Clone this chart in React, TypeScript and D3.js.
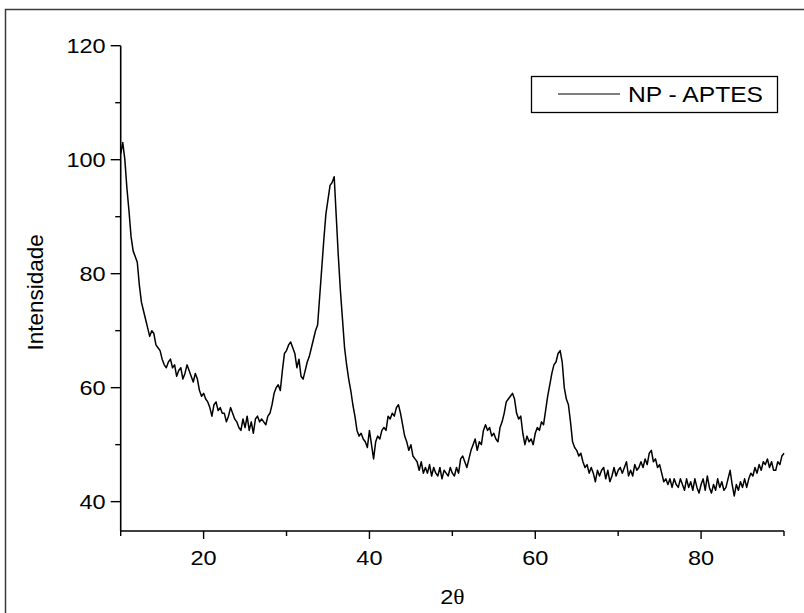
import React from "react";
import * as d3 from "d3";

// 2θ grid: start angle and step (degrees)
const angleStart = 10;
const angleStep = 0.25;

// Intensity, one value per 0.25° step from 10° to 90°
const intensity: number[] = [
  // 10.00 - 14.75
  101, 103, 100, 95, 91, 86.5, 84, 83, 82, 78, 75, 73.5, 72, 70.5, 69, 70, 69.5, 67.5, 67, 66.5,
  // 15.00 - 19.75
  65, 64, 63.5, 64.5, 65, 63.5, 64, 62, 63, 63.5, 61.5, 62.5, 64, 63, 62, 61, 62.5, 61.5, 59.5, 58.5,
  // 20.00 - 24.75
  59, 58, 57.5, 56.5, 55, 57, 57.5, 56, 56.5, 55.5, 55.5, 54, 55, 56.5, 55.5, 54.5, 54, 53, 52.5, 54.5,
  // 25.00 - 29.75
  53, 55, 52.5, 54, 52, 54.5, 55, 54, 54.5, 54, 53.5, 55, 55.5, 57, 59, 60, 60.5, 59.5, 63, 66,
  // 30.00 - 34.75
  66.5, 67.5, 68, 67, 66, 63.5, 65, 62, 61.5, 63, 64.5, 65.5, 67, 68.5, 70, 71, 76, 81, 86, 90.5,
  // 35.00 - 39.75
  93, 95.5, 96, 97, 90, 83, 77, 72, 67, 64, 61.5, 59.5, 57, 55, 52.5, 51.5, 52, 51, 50.5, 49.5,
  // 40.00 - 44.75
  52.5, 50, 47.5, 50.5, 51.5, 51, 52.5, 53, 52.5, 55, 54.5, 55.5, 55, 56.5, 57, 55.5, 53.5, 51.5, 50.5, 49,
  // 45.00 - 49.75
  50, 48, 47.5, 47, 45.5, 47, 45, 46, 45, 46.5, 44.5, 46, 45, 44.5, 46, 44, 45.5, 45, 44.5, 46,
  // 50.00 - 54.75
  45, 44.5, 46, 45, 47.5, 48, 47, 46, 47.5, 49, 50, 51, 49, 50.5, 50, 52.5, 53.5, 52.5, 53, 51.5,
  // 55.00 - 59.75
  52, 51, 50.5, 53, 54, 55.5, 57.5, 58, 58.5, 59, 58, 55.5, 54.5, 55, 52, 50, 51.5, 50.5, 51, 50,
  // 60.00 - 64.75
  52, 53, 52.5, 54, 53.5, 56, 58.5, 60.5, 62.5, 64, 64.5, 66, 66.5, 64.5, 60, 58, 57, 54, 50.5, 49.5,
  // 65.00 - 69.75
  49, 48, 48.5, 47, 46, 46.5, 45, 46, 45, 43.5, 45.5, 44.5, 45.5, 46, 44, 45.5, 43.5, 44.5, 46, 44.5,
  // 70.00 - 74.75
  45.5, 46, 45, 46, 47, 44.5, 45.5, 44.5, 46.5, 45.5, 46, 47, 46, 47.5, 46.5, 48.5, 49, 47, 47.5, 46,
  // 75.00 - 79.75
  46.5, 45, 43.5, 44, 43, 44, 42.5, 44, 43, 42.5, 44, 43, 42, 44, 42.5, 43.5, 42, 44, 42.5, 41.5,
  // 80.00 - 84.75
  43, 44, 42, 44.5, 42.5, 41.5, 43, 42, 44, 42.5, 43.5, 42, 42.5, 44, 45.5, 43, 41, 43, 42, 43.5,
  // 85.00 - 90.00
  42.5, 44, 42.5, 44, 45, 44.5, 46, 45, 46.5, 45.5, 47, 46.5, 47.5, 46, 47, 45.5, 45.5, 47, 46.5, 48, 48.5,
];

const xMajorTicks = [20, 40, 60, 80];
const xMinorTicks = [10, 30, 50, 70, 90];
const yMajorTicks = [40, 60, 80, 100, 120];
const yMinorTicks = [50, 70, 90, 110];

const seriesName = "NP - APTES";
const xTitle = "2";
const xTitleGreek = "θ";
const yTitle = "Intensidade";

export default function App() {
  const W = 804;
  const H = 613;
  const left = 120.7;
  const right = 784;
  const top = 45.7;
  const bottom = 531;
  const stretch = 1.12;

  const x = d3.scaleLinear().domain([10, 90]).range([left, right]);
  const y = d3.scaleLinear().domain([34.85, 120]).range([bottom, top]);

  const pts: [number, number][] = intensity.map((v, i) => [angleStart + i * angleStep, v]);
  const line = d3
    .line<[number, number]>()
    .x((d) => x(d[0]))
    .y((d) => y(d[1]));

  const font = "'Liberation Sans', Arial, Helvetica, sans-serif";

  return (
    <svg
      width={W}
      height={H}
      style={{ position: "absolute", left: 0, top: 0, background: "#fff" }}
    >
      <rect x={0} y={0} width={W} height={H} fill="#fff" />
      {/* outer frame */}
      <rect x={5.5} y={9.5} width={W + 20} height={H + 20} fill="none" stroke="#3a3a3a" strokeWidth={1.5} />

      {/* data */}
      <path d={line(pts) || ""} fill="none" stroke="#000" strokeWidth={1.5} strokeLinejoin="round" />

      {/* axes */}
      <line x1={left} y1={top} x2={left} y2={bottom} stroke="#000" strokeWidth={1.6} />
      <line x1={left} y1={bottom} x2={right} y2={bottom} stroke="#000" strokeWidth={1.6} />

      {yMajorTicks.map((t) => (
        <g key={"ym" + t}>
          <line x1={left - 10} x2={left} y1={y(t)} y2={y(t)} stroke="#000" strokeWidth={1.4} />
          <text
            transform={`translate(${left - 15}, ${y(t)}) scale(${stretch}, 1)`}
            dy="0.36em"
            textAnchor="end"
            fontFamily={font}
            fontSize={21}
            fill="#000"
          >
            {t}
          </text>
        </g>
      ))}
      {yMinorTicks.map((t) => (
        <line key={"yn" + t} x1={left - 5.5} x2={left} y1={y(t)} y2={y(t)} stroke="#000" strokeWidth={1.4} />
      ))}

      {xMajorTicks.map((t) => (
        <g key={"xm" + t}>
          <line x1={x(t)} x2={x(t)} y1={bottom} y2={bottom + 8} stroke="#000" strokeWidth={1.4} />
          <text
            transform={`translate(${x(t)}, ${bottom + 26}) scale(${stretch}, 1)`}
            dy="0.36em"
            textAnchor="middle"
            fontFamily={font}
            fontSize={21}
            fill="#000"
          >
            {t}
          </text>
        </g>
      ))}
      {xMinorTicks.map((t) => (
        <line key={"xn" + t} x1={x(t)} x2={x(t)} y1={bottom} y2={bottom + 5} stroke="#000" strokeWidth={1.4} />
      ))}

      {/* axis titles */}
      <text
        transform={`translate(${(left + right) / 2}, 604) scale(${stretch}, 1)`}
        textAnchor="middle"
        fontFamily={font}
        fontSize={21}
        fill="#000"
      >
        {xTitle}
        <tspan fontFamily="'Liberation Serif', 'Times New Roman', serif">{xTitleGreek}</tspan>
      </text>
      <text
        transform={`translate(43, ${(top + bottom) / 2 + 4}) rotate(-90)`}
        textAnchor="middle"
        fontFamily={font}
        fontSize={22.5}
        fill="#000"
      >
        {yTitle}
      </text>

      {/* legend */}
      <rect x={531.5} y={76.5} width={246} height={36} fill="#fff" stroke="#000" strokeWidth={1.3} />
      <line x1={558} x2={620} y1={94} y2={94} stroke="#000" strokeWidth={1.1} />
      <text
        transform={`translate(628, 94) scale(${stretch}, 1)`}
        dy="0.36em"
        fontFamily={font}
        fontSize={22}
        fill="#000"
      >
        {seriesName}
      </text>
    </svg>
  );
}
